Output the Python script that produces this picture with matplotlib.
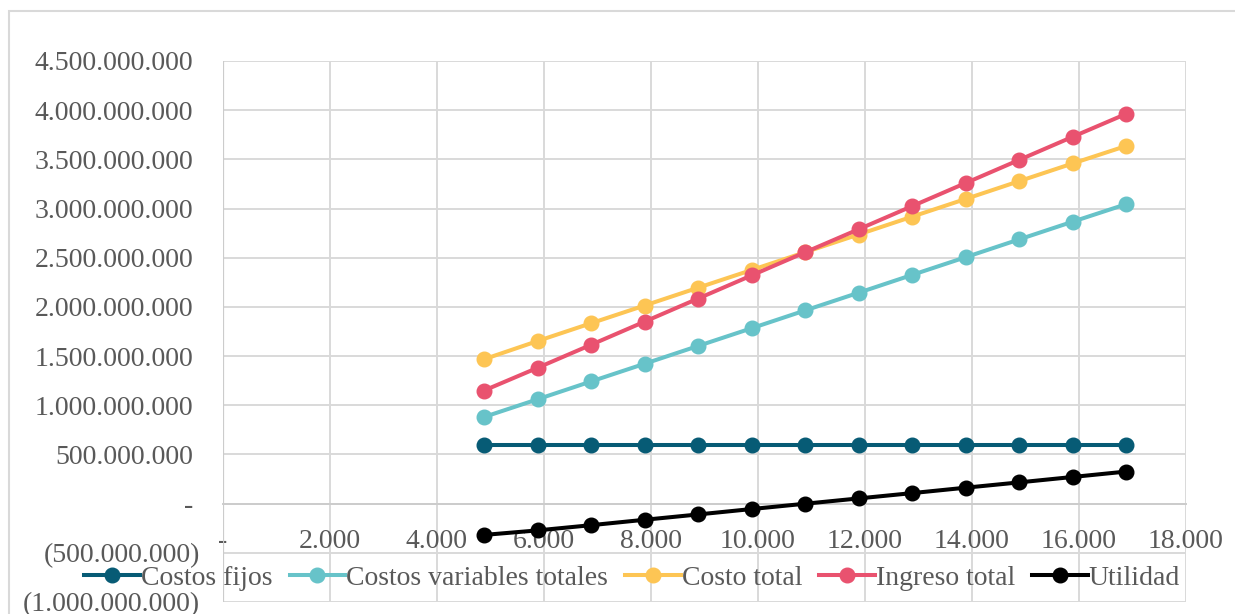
import matplotlib.pyplot as plt
from matplotlib.patches import Rectangle
from matplotlib.transforms import ScaledTranslation

# unidades producidas y vendidas
unidades = [4880, 5880, 6880, 7880, 8880, 9880, 10880, 11880, 12880, 13880, 14880, 15880, 16880]

# valores en pesos
costos_fijos = [592e6] * 13
costos_variables = [881e6, 1061e6, 1242e6, 1422e6, 1603e6, 1783e6, 1964e6,
                    2144e6, 2325e6, 2505e6, 2686e6, 2866e6, 3044e6]
costo_total = [1468e6, 1653e6, 1834e6, 2014e6, 2195e6, 2375e6, 2556e6,
               2736e6, 2917e6, 3097e6, 3278e6, 3458e6, 3636e6]
ingreso_total = [1150e6, 1381e6, 1615e6, 1850e6, 2085e6, 2320e6, 2555e6,
                 2789e6, 3024e6, 3259e6, 3494e6, 3729e6, 3962e6]
utilidad = [-318e6, -272e6, -219e6, -164e6, -110e6, -55e6, -1e6,
            53e6, 107e6, 162e6, 216e6, 271e6, 326e6]

series = [
    ("Costos fijos", costos_fijos, "#075B75"),
    ("Costos variables totales", costos_variables, "#67C3C9"),
    ("Costo total", costo_total, "#FDC554"),
    ("Ingreso total", ingreso_total, "#E9526F"),
    ("Utilidad", utilidad, "#000000"),
]

y_ticks = [-1e9, -5e8, 0, 5e8, 1e9, 1.5e9, 2e9, 2.5e9, 3e9, 3.5e9, 4e9, 4.5e9]
x_ticks = list(range(0, 18001, 2000))


def miles(v):
    if v == 0:
        return "-"
    s = "{:,.0f}".format(abs(v)).replace(",", ".")
    return "(" + s + ")" if v < 0 else s


plt.rcParams['font.family'] = ['Liberation Serif', 'DejaVu Serif']
gris = "#595959"
linea = "#D9D9D9"

fig = plt.figure(figsize=(12.35, 6.14), dpi=100)
fig.patches.append(Rectangle((9 / 1235, -0.05), 1.1, 1 - 11 / 614 + 0.05,
                             transform=fig.transFigure, fill=False,
                             edgecolor=linea, linewidth=1.5))
ax = fig.add_axes([223 / 1235, 1 - 602 / 614, (1186 - 223) / 1235, (602 - 61) / 614])

for nombre, valores, color in series:
    ax.plot(unidades, valores, color=color, linewidth=2.9, marker='o',
            markersize=10.5, label=nombre, zorder=3)

ax.set_xlim(0, 18000)
ax.set_ylim(-1e9, 4.5e9)
ax.set_xticks(x_ticks)
ax.set_xticklabels([miles(v) for v in x_ticks])
ax.set_yticks(y_ticks)
ax.set_yticklabels([miles(v) for v in y_ticks])
ax.grid(True, color=linea, linewidth=1.4)
ax.set_axisbelow(True)

for side in ['top', 'right', 'left']:
    ax.spines[side].set_visible(False)
ax.spines['bottom'].set_position(('data', 0))
ax.spines['bottom'].set_color("#CCCCCC")
ax.spines['bottom'].set_linewidth(1.4)
ax.axvline(0, color="#CCCCCC", linewidth=1.6, zorder=2)

ax.tick_params(axis='both', length=0, labelsize=20, labelcolor=gris)
ax.tick_params(axis='y', pad=21.5)
ax.tick_params(axis='x', pad=18)

# los negativos llevan el parentesis fuera de la columna
desplazar = ScaledTranslation(7 / 100, 0, fig.dpi_scale_trans)
for v, lab in zip(y_ticks, ax.get_yticklabels()):
    if v < 0:
        lab.set_transform(lab.get_transform() + desplazar)

fig.legend(loc='center', bbox_to_anchor=(0.512, 1 - 578 / 614), ncol=5,
           frameon=False, fontsize=20, labelcolor=gris, handlelength=2.0,
           handletextpad=0.05, columnspacing=0.6, borderaxespad=0,
           borderpad=0)

fig.savefig("out.png", dpi=100)
